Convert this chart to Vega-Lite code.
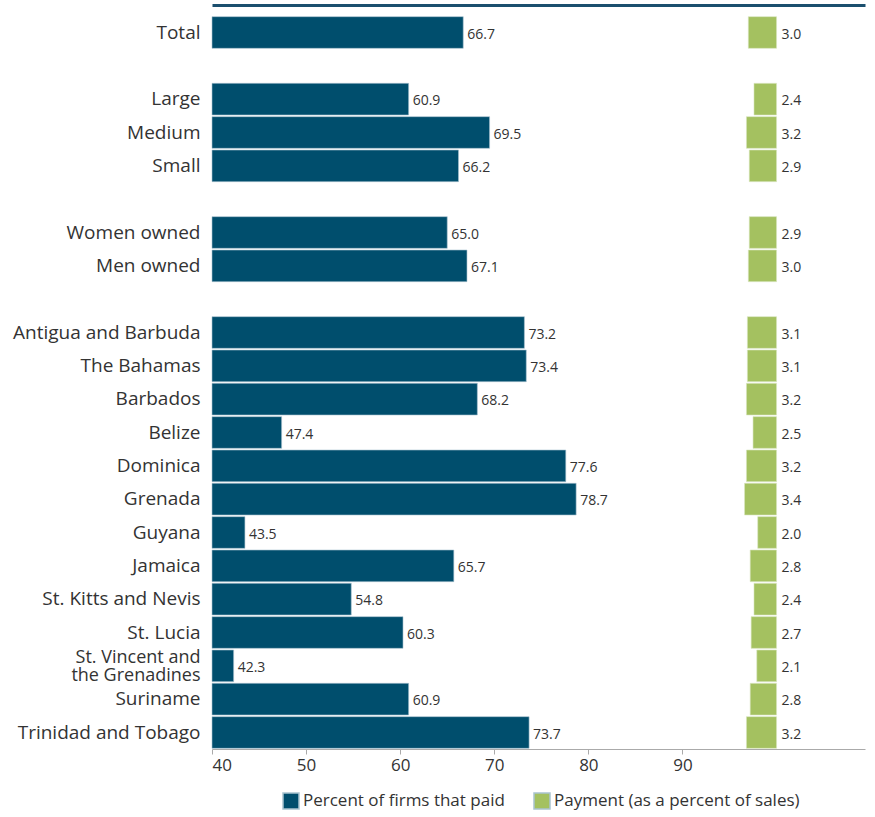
{
  "$schema": "https://vega.github.io/schema/vega-lite/v6.json",
  "autosize": "none",
  "padding": {"left": 212, "top": 16, "right": 10, "bottom": 68},
  "width": 653,
  "height": 733,
  "config": {"font": "Open Sans", "view": {"stroke": null}},
  "data": {"values": [
    {"cat": "Total", "series": "Percent of firms that paid", "value": 66.7},
    {"cat": "Large", "series": "Percent of firms that paid", "value": 60.9},
    {"cat": "Medium", "series": "Percent of firms that paid", "value": 69.5},
    {"cat": "Small", "series": "Percent of firms that paid", "value": 66.2},
    {"cat": "Women owned", "series": "Percent of firms that paid", "value": 65.0},
    {"cat": "Men owned", "series": "Percent of firms that paid", "value": 67.1},
    {"cat": "Antigua and Barbuda", "series": "Percent of firms that paid", "value": 73.2},
    {"cat": "The Bahamas", "series": "Percent of firms that paid", "value": 73.4},
    {"cat": "Barbados", "series": "Percent of firms that paid", "value": 68.2},
    {"cat": "Belize", "series": "Percent of firms that paid", "value": 47.4},
    {"cat": "Dominica", "series": "Percent of firms that paid", "value": 77.6},
    {"cat": "Grenada", "series": "Percent of firms that paid", "value": 78.7},
    {"cat": "Guyana", "series": "Percent of firms that paid", "value": 43.5},
    {"cat": "Jamaica", "series": "Percent of firms that paid", "value": 65.7},
    {"cat": "St. Kitts and Nevis", "series": "Percent of firms that paid", "value": 54.8},
    {"cat": "St. Lucia", "series": "Percent of firms that paid", "value": 60.3},
    {"cat": "St. Vincent and the Grenadines", "series": "Percent of firms that paid", "value": 42.3},
    {"cat": "Suriname", "series": "Percent of firms that paid", "value": 60.9},
    {"cat": "Trinidad and Tobago", "series": "Percent of firms that paid", "value": 73.7},
    {"cat": "Total", "series": "Payment (as a percent of sales)", "value": 3.0},
    {"cat": "Large", "series": "Payment (as a percent of sales)", "value": 2.4},
    {"cat": "Medium", "series": "Payment (as a percent of sales)", "value": 3.2},
    {"cat": "Small", "series": "Payment (as a percent of sales)", "value": 2.9},
    {"cat": "Women owned", "series": "Payment (as a percent of sales)", "value": 2.9},
    {"cat": "Men owned", "series": "Payment (as a percent of sales)", "value": 3.0},
    {"cat": "Antigua and Barbuda", "series": "Payment (as a percent of sales)", "value": 3.1},
    {"cat": "The Bahamas", "series": "Payment (as a percent of sales)", "value": 3.1},
    {"cat": "Barbados", "series": "Payment (as a percent of sales)", "value": 3.2},
    {"cat": "Belize", "series": "Payment (as a percent of sales)", "value": 2.5},
    {"cat": "Dominica", "series": "Payment (as a percent of sales)", "value": 3.2},
    {"cat": "Grenada", "series": "Payment (as a percent of sales)", "value": 3.4},
    {"cat": "Guyana", "series": "Payment (as a percent of sales)", "value": 2.0},
    {"cat": "Jamaica", "series": "Payment (as a percent of sales)", "value": 2.8},
    {"cat": "St. Kitts and Nevis", "series": "Payment (as a percent of sales)", "value": 2.4},
    {"cat": "St. Lucia", "series": "Payment (as a percent of sales)", "value": 2.7},
    {"cat": "St. Vincent and the Grenadines", "series": "Payment (as a percent of sales)", "value": 2.1},
    {"cat": "Suriname", "series": "Payment (as a percent of sales)", "value": 2.8},
    {"cat": "Trinidad and Tobago", "series": "Payment (as a percent of sales)", "value": 3.2}
  ]},
  "layer": [
    {
      "transform": [{"filter": "datum.series == 'Percent of firms that paid'"}],
      "layer": [
        {
          "mark": {"type": "bar", "stroke": "#a9c3d0", "strokeWidth": 0.6},
          "encoding": {
            "x": {
              "field": "value",
              "type": "quantitative",
              "scale": {"domain": [40, 109.4], "nice": false, "zero": false},
              "axis": {
                "values": [40, 50, 60, 70, 80, 90],
                "title": null,
                "grid": false,
                "domainColor": "#aaaaaa",
                "tickColor": "#aaaaaa",
                "tickSize": 5,
                "labelFontSize": 17,
                "labelColor": "#333333",
                "labelPadding": 3
              }
            },
            "x2": {"datum": 40},
            "y": {
              "field": "cat",
              "type": "nominal",
              "sort": null,
              "scale": {
                "domain": ["Total", " ", "Large", "Medium", "Small", "  ", "Women owned", "Men owned", "   ",
                  "Antigua and Barbuda", "The Bahamas", "Barbados", "Belize", "Dominica", "Grenada", "Guyana", "Jamaica",
                  "St. Kitts and Nevis", "St. Lucia", "St. Vincent and the Grenadines", "Suriname", "Trinidad and Tobago"],
                "paddingInner": 0.05,
                "paddingOuter": 0.02
              },
              "axis": {
                "title": null,
                "domain": false,
                "ticks": false,
                "labelFontSize": 19,
                "labelColor": "#333333",
                "labelPadding": 12,
                "labelLimit": 260,
                "labelLineHeight": 18,
                "labelOffset": {"condition": {"test": "datum.value == 'St. Vincent and the Grenadines'", "value": -8}, "value": 0},
                "labelFontSize": {"condition": {"test": "datum.value == 'St. Vincent and the Grenadines'", "value": 18}, "value": 19},
                "labelExpr": "datum.label == 'St. Vincent and the Grenadines' ? ['St. Vincent and', 'the Grenadines'] : datum.label"
              }
            },
            "color": {
              "field": "series",
              "type": "nominal",
              "scale": {
                "domain": ["Percent of firms that paid", "Payment (as a percent of sales)"],
                "range": ["#004e6d", "#a4c160"]
              },
              "legend": {
                "orient": "none",
                "legendX": 70,
                "legendY": 776,
                "direction": "horizontal",
                "title": null,
                "symbolType": "square",
                "symbolSize": 256,
                "labelFontSize": 17,
                "labelColor": "#333333",
                "labelLimit": 400,
                "labelOffset": 3,
                "columnPadding": 26
              }
            }
          }
        },
        {
          "mark": {"type": "text", "align": "left", "baseline": "middle", "dx": 4, "dy": 2, "fontSize": 14, "color": "#333333"},
          "encoding": {
            "x": {"field": "value", "type": "quantitative"},
            "y": {"field": "cat", "type": "nominal", "sort": null},
            "text": {"field": "value", "type": "quantitative", "format": ".1f"}
          }
        }
      ]
    },
    {
      "transform": [{"filter": "datum.series == 'Payment (as a percent of sales)'"}],
      "layer": [
        {
          "mark": {"type": "bar", "stroke": "#d8e6c0", "strokeWidth": 0.6},
          "encoding": {
            "x": {
              "field": "value",
              "type": "quantitative",
              "scale": {"domain": [-9.4, 60], "nice": false, "zero": false, "reverse": true},
              "axis": {
                "orient": "top",
                "title": null,
                "labels": false,
                "ticks": false,
                "grid": false,
                "domainColor": "#1b4f6e",
                "domainWidth": 3,
                "offset": 11
              }
            },
            "x2": {"datum": 0},
            "y": {"field": "cat", "type": "nominal", "sort": null},
            "color": {"field": "series", "type": "nominal"}
          }
        },
        {
          "mark": {"type": "text", "align": "left", "baseline": "middle", "dx": 5, "dy": 2, "fontSize": 14, "color": "#333333"},
          "encoding": {
            "x": {"datum": 0, "type": "quantitative"},
            "y": {"field": "cat", "type": "nominal", "sort": null},
            "text": {"field": "value", "type": "quantitative", "format": ".1f"}
          }
        }
      ]
    }
  ],
  "resolve": {"scale": {"x": "independent"}}
}
